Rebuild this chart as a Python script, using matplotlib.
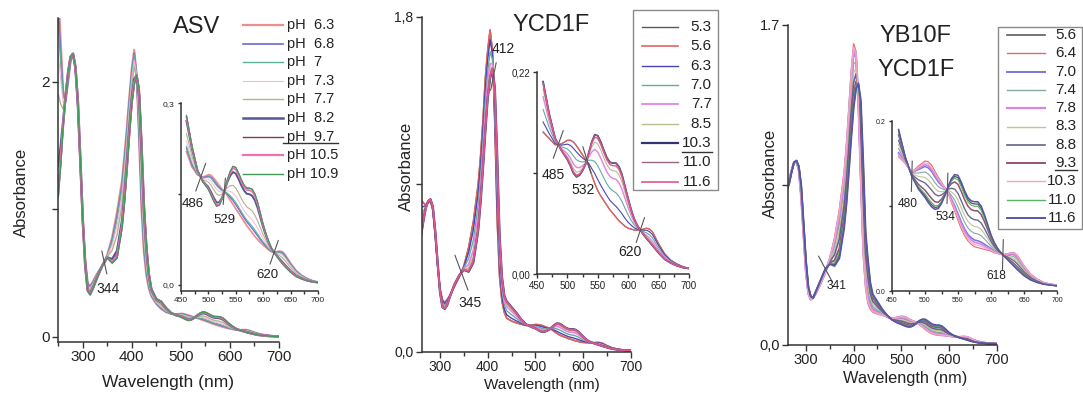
import numpy as np
import matplotlib
matplotlib.use("Agg")
import matplotlib.pyplot as plt
from matplotlib.lines import Line2D
from matplotlib.patches import Rectangle

plt.rcParams['font.family'] = ['Liberation Sans', 'DejaVu Sans']

W, H = 1083, 394

# wavelength grid (nm)
wl = np.array([250, 255, 260, 265, 270, 275, 280, 285, 290, 295, 300, 305, 310, 315, 320,
               330, 340, 350, 360, 370, 380,
               385, 390, 395, 400, 405, 410, 415, 420, 425, 430, 435, 440,
               450, 460, 470, 480, 490,
               500, 505, 510, 515, 520, 525, 530, 535, 540, 545, 550, 555, 560, 565, 570,
               575, 580, 585, 590, 595, 600, 605, 610, 615, 620, 625, 630, 635, 640,
               650, 660, 670, 680, 690, 700])

# ---- ASV: limiting spectra ----
asv_acid = np.array([2.70, 2.30, 1.92, 1.85, 2.00, 2.16, 2.22, 2.10, 1.80, 1.35, 0.90, 0.60, 0.42, 0.40, 0.43,
                     0.50, 0.56, 0.64, 0.78, 0.98, 1.22,
                     1.42, 1.64, 1.88, 2.10, 2.25, 2.05, 1.55, 1.00, 0.66, 0.48, 0.38, 0.32,
                     0.26, 0.22, 0.195, 0.182, 0.178,
                     0.182, 0.181, 0.176, 0.170, 0.164, 0.158, 0.154, 0.147, 0.140, 0.133, 0.126, 0.119, 0.112, 0.105, 0.098,
                     0.092, 0.086, 0.080, 0.075, 0.070, 0.066, 0.062, 0.058, 0.055, 0.054, 0.055, 0.056, 0.055, 0.050,
                     0.036, 0.024, 0.016, 0.011, 0.007, 0.005])
asv_base = np.array([1.10, 1.35, 1.65, 1.90, 2.08, 2.20, 2.22, 2.12, 1.85, 1.40, 0.92, 0.55, 0.36, 0.33, 0.37,
                     0.47, 0.56, 0.62, 0.58, 0.62, 0.85,
                     1.05, 1.30, 1.58, 1.82, 1.98, 2.05, 1.95, 1.55, 1.05, 0.72, 0.50, 0.38,
                     0.30, 0.28, 0.23, 0.19, 0.170,
                     0.158, 0.148, 0.138, 0.130, 0.132, 0.142, 0.158, 0.175, 0.188, 0.196, 0.194, 0.185, 0.174, 0.165, 0.160,
                     0.160, 0.158, 0.150, 0.136, 0.118, 0.100, 0.085, 0.072, 0.061, 0.054, 0.047, 0.041, 0.035, 0.030,
                     0.021, 0.014, 0.010, 0.007, 0.005, 0.004])
asv_ph = ['pH  6.3', 'pH  6.8', 'pH  7', 'pH  7.3', 'pH  7.7', 'pH  8.2', 'pH  9.7', 'pH 10.5', 'pH 10.9']
asv_frac = [0.0, 0.1, 0.15, 0.3, 0.5, 0.85, 1.0, 0.95, 1.0]
asv_colors = ['#f08c8c', '#6a6ad8', '#5db39a', '#f2b6dc', '#b4b488', '#575796', '#7b3b5e', '#f46fb2', '#3f9a5c']
asv_lw = [1.6, 1.2, 1.0, 0.8, 1.0, 1.8, 1.0, 1.6, 1.0]
asv_iso_main = [344]
asv_iso_inset = [486, 529, 620]

# ---- YCD1F ----
ycd_acid = np.array([0.85, 0.83, 0.82, 0.80, 0.79, 0.80, 0.81, 0.76, 0.62, 0.46, 0.34, 0.28, 0.265, 0.28, 0.30,
                     0.35, 0.40, 0.46, 0.56, 0.70, 0.90,
                     1.05, 1.24, 1.47, 1.62, 1.73, 1.62, 1.22, 0.70, 0.40, 0.27, 0.21, 0.18,
                     0.165, 0.155, 0.148, 0.141, 0.142,
                     0.146, 0.146, 0.144, 0.140, 0.135, 0.130, 0.125, 0.118, 0.108, 0.099, 0.091, 0.085, 0.080, 0.075, 0.070,
                     0.066, 0.062, 0.058, 0.055, 0.052, 0.050, 0.049, 0.048, 0.048, 0.048, 0.049, 0.050, 0.049, 0.046,
                     0.033, 0.022, 0.015, 0.011, 0.008, 0.006])
ycd_base = np.array([0.55, 0.58, 0.62, 0.70, 0.77, 0.81, 0.82, 0.78, 0.65, 0.48, 0.32, 0.24, 0.23, 0.25, 0.29,
                     0.36, 0.41, 0.44, 0.43, 0.48, 0.65,
                     0.80, 0.98, 1.18, 1.36, 1.47, 1.52, 1.42, 1.05, 0.62, 0.40, 0.30, 0.27,
                     0.24, 0.21, 0.175, 0.148, 0.135,
                     0.125, 0.118, 0.110, 0.106, 0.108, 0.113, 0.120, 0.132, 0.144, 0.152, 0.151, 0.144, 0.135, 0.127, 0.122,
                     0.121, 0.121, 0.117, 0.108, 0.095, 0.082, 0.070, 0.060, 0.053, 0.048, 0.043, 0.039, 0.035, 0.031,
                     0.023, 0.016, 0.012, 0.009, 0.007, 0.006])
ycd_ph = ['5.3', '5.6', '6.3', '7.0', '7.7', '8.5', '10.3', '11.0', '11.6']
ycd_frac = [0.0, 0.0, 0.2, 0.45, 0.7, 0.85, 1.0, 1.0, 0.95]
ycd_colors = ['#5a5a5a', '#e46262', '#4646b4', '#66aaa2', '#e486e6', '#bcbc92', '#33336e', '#946682', '#e2548e']
ycd_lw = [1.0, 1.2, 1.0, 1.0, 1.3, 1.0, 1.6, 1.0, 1.2]
ycd_iso_main = [345, 412]
ycd_iso_inset = [485, 532, 620]

# ---- YB10F / YCD1F ----
yb_acid = np.array([0.80, 0.82, 0.84, 0.88, 0.93, 0.97, 0.97, 0.93, 0.78, 0.58, 0.38, 0.27, 0.24, 0.25, 0.27,
                    0.32, 0.38, 0.46, 0.57, 0.72, 0.92,
                    1.07, 1.26, 1.46, 1.60, 1.56, 1.28, 0.85, 0.48, 0.30, 0.22, 0.19, 0.175,
                    0.165, 0.158, 0.150, 0.140, 0.147,
                    0.153, 0.152, 0.148, 0.141, 0.134, 0.128, 0.122, 0.115, 0.104, 0.094, 0.083, 0.073, 0.065, 0.059, 0.055,
                    0.052, 0.051, 0.050, 0.049, 0.048, 0.047, 0.045, 0.044, 0.043, 0.043, 0.044, 0.045, 0.045, 0.042,
                    0.030, 0.020, 0.014, 0.010, 0.008, 0.007])
yb_base = np.array([0.75, 0.78, 0.82, 0.86, 0.92, 0.97, 0.98, 0.95, 0.85, 0.65, 0.45, 0.31, 0.26, 0.25, 0.28,
                    0.34, 0.40, 0.43, 0.42, 0.46, 0.62,
                    0.75, 0.92, 1.10, 1.26, 1.36, 1.39, 1.30, 0.98, 0.60, 0.45, 0.33, 0.27,
                    0.23, 0.19, 0.158, 0.135, 0.120,
                    0.110, 0.104, 0.099, 0.096, 0.097, 0.103, 0.112, 0.123, 0.132, 0.137, 0.136, 0.128, 0.118, 0.110, 0.106,
                    0.105, 0.105, 0.100, 0.090, 0.078, 0.066, 0.057, 0.050, 0.045, 0.041, 0.037, 0.033, 0.029, 0.025,
                    0.018, 0.013, 0.010, 0.008, 0.007, 0.006])
yb_ph = ['5.6', '6.4', '7.0', '7.4', '7.8', '8.3', '8.8', '9.3', '10.3', '11.0', '11.6']
yb_frac = [0.95, 0.0, 0.15, 0.3, 0.1, 0.45, 0.6, 0.8, 0.05, 0.9, 1.0]
yb_colors = ['#5c5c5c', '#e46a6a', '#7676da', '#86a6a6', '#d486ea', '#c4c494', '#646490', '#965274', '#f2a6c6', '#56b466', '#5656a6']
yb_lw = [1.2, 1.0, 1.4, 1.0, 1.6, 1.0, 1.2, 1.4, 1.0, 1.0, 1.4]
yb_iso_main = [341]
yb_iso_inset = [480, 534, 618]

INK = '#222222'


def box(x0, y0, x1, y1):
    return [x0 / W, 1 - y1 / H, (x1 - x0) / W, (y1 - y0) / H]


def fx(x):
    return x / W


def fy(y):
    return 1 - y / H


def style(ax, size, ticklen=4):
    for s in ['top', 'right']:
        ax.spines[s].set_visible(False)
    for s in ['left', 'bottom']:
        ax.spines[s].set_color('#333333')
        ax.spines[s].set_linewidth(1.1)
    ax.tick_params(which='both', direction='out', colors='#333333', labelcolor=INK,
                   labelsize=size, width=1, pad=2)
    ax.tick_params(which='major', length=ticklen)
    ax.tick_params(which='minor', length=ticklen * 0.75)
    ax.set_facecolor('none')


def curves(ax, acid, base, frac, colors, lws, lo=None):
    sel = wl >= lo if lo else np.ones(len(wl), bool)
    for f, c, lw in zip(frac, colors, lws):
        ax.plot(wl[sel], ((1 - f) * acid + f * base)[sel], color=c, lw=lw)


def mark(ax, lam, base, line, off, size):
    yv = np.interp(lam, wl, base)
    dx, dy = line
    for s in (1, -1):
        ax.annotate('', xy=(lam, yv), xytext=(s * dx, s * dy), textcoords='offset points',
                    arrowprops=dict(arrowstyle='-', color='#555555', lw=0.8, shrinkA=0, shrinkB=0))
    ax.annotate(str(lam), xy=(lam, yv), xytext=off, textcoords='offset points',
                ha='center', va='center', fontsize=size, color=INK)


def key(labels, colors, lws, x0, x1, xt, y0, dy, ha, size):
    for i, (lab, c, lw) in enumerate(zip(labels, colors, lws)):
        y = y0 + i * dy
        fig.add_artist(Line2D([fx(x0), fx(x1)], [fy(y), fy(y)], color=c, lw=lw))
        fig.text(fx(xt), fy(y), lab, ha=ha, va='center', fontsize=size, color=INK)


def underline(x0, x1, y):
    fig.add_artist(Line2D([fx(x0), fx(x1)], [fy(y), fy(y)], color='#333333', lw=1.0))


def frame(x0, y0, x1, y1):
    fig.add_artist(Rectangle((fx(x0), fy(y1)), (x1 - x0) / W, (y1 - y0) / H,
                             transform=fig.transFigure, fill=False, edgecolor='#8a8a8a', lw=1.0))


fig = plt.figure(figsize=(W / 100, H / 100), dpi=100)

# ================= ASV =================
ax1 = fig.add_axes(box(58.3, 18, 278.7, 341.7))
curves(ax1, asv_acid, asv_base, asv_frac, asv_colors, asv_lw)
ax1.set_xlim(250, 700)
ax1.set_ylim(-0.037, 2.5)
ax1.set_xticks([300, 400, 500, 600, 700])
ax1.set_xticks([250, 350, 450, 550, 650], minor=True)
ax1.set_yticks([0, 1, 2])
ax1.set_yticklabels(['0', '', '2'])
style(ax1, 11)
mark(ax1, asv_iso_main[0], asv_base, (1.8, -8.3), (2.5, -19), 10)

in1 = fig.add_axes(box(181, 103.3, 318, 291))
curves(in1, asv_acid, asv_base, asv_frac, asv_colors, [l * 0.8 for l in asv_lw], lo=460)
in1.set_xlim(450, 700)
in1.set_ylim(-0.0099, 0.3)
in1.set_xticks([450, 500, 550, 600, 650, 700])
in1.set_xticks([475, 525, 575, 625, 675], minor=True)
in1.set_yticks([0, 0.15, 0.3])
in1.set_yticklabels(['0,0', '', '0,3'])
style(in1, 6, 2.5)
for lam, ln, off in zip(asv_iso_inset, [(3.6, 10), (0.8, 9.5), (3, 8.6)],
                        [(-5.5, -19.5), (0, -21), (-5, -16)]):
    mark(in1, lam, asv_base, ln, off, 9.5)

fig.text(fx(197), fy(27), 'ASV', ha='center', va='center', fontsize=17, color=INK)
fig.text(fx(21.7), fy(192), 'Absorbance', rotation=90, ha='center', va='center', fontsize=12, color=INK)
fig.text(fx(168), fy(383), 'Wavelength (nm)', ha='center', va='center', fontsize=12.5, color=INK)
key(asv_ph, asv_colors, asv_lw, 243, 283, 287, 25, 18.6, 'left', 10.5)
underline(283, 338, 143.3)

# ================= YCD1F =================
ax2 = fig.add_axes(box(421.7, 17, 630.7, 351.7))
curves(ax2, ycd_acid, ycd_base, ycd_frac, ycd_colors, ycd_lw)
ax2.set_xlim(261.6, 700)
ax2.set_ylim(0, 1.8)
ax2.set_xticks([300, 400, 500, 600, 700])
ax2.set_xticks([350, 450, 550, 650], minor=True)
ax2.set_yticks([0, 0.9, 1.8])
ax2.set_yticklabels(['0,0', '', '1,8'])
style(ax2, 10)
mark(ax2, ycd_iso_main[0], ycd_base, (4.7, -12.6), (6, -21.6), 10)
mark(ax2, ycd_iso_main[1], ycd_base, (2, 10), (7, 19.5), 10)

in2 = fig.add_axes(box(537, 72.5, 689, 274))
curves(in2, ycd_acid, ycd_base, ycd_frac, ycd_colors, [l * 0.8 for l in ycd_lw], lo=460)
in2.set_xlim(450, 700)
in2.set_ylim(0, 0.22)
in2.set_xticks([450, 500, 550, 600, 650, 700])
in2.set_xticks([475, 525, 575, 625, 675], minor=True)
in2.set_yticks([0, 0.11, 0.22])
in2.set_yticklabels(['0,00', '', '0,22'])
style(in2, 7, 3)
for lam, ln, off in zip(ycd_iso_inset, [(3.6, 10), (2.9, -9.4), (3, 9)],
                        [(-3.8, -21.9), (-2.9, -22), (-7.5, -16)]):
    mark(in2, lam, ycd_base, ln, off, 10)

fig.text(fx(551.5), fy(25), 'YCD1F', ha='center', va='center', fontsize=17, color=INK)
fig.text(fx(406.7), fy(166.7), 'Absorbance', rotation=90, ha='center', va='center', fontsize=12, color=INK)
fig.text(fx(542), fy(385), 'Wavelength (nm)', ha='center', va='center', fontsize=11, color=INK)
frame(633, 10, 718, 190)
key(ycd_ph, ycd_colors, ycd_lw, 641.7, 678, 711.7, 26.7, 19.4, 'right', 11)
underline(682, 711.7, 151.7)

# ================= YB10F / YCD1F =================
ax3 = fig.add_axes(box(788.3, 25, 996.7, 345))
curves(ax3, yb_acid, yb_base, yb_frac, yb_colors, yb_lw)
ax3.set_xlim(263, 700)
ax3.set_ylim(0, 1.7)
ax3.set_xticks([300, 400, 500, 600, 700])
ax3.set_xticks([350, 450, 550, 650], minor=True)
ax3.set_yticks([0, 0.85, 1.7])
ax3.set_yticklabels(['0,0', '', '1.7'])
style(ax3, 10.5)
mark(ax3, yb_iso_main[0], yb_base, (5, -9.4), (8, -12.2), 8.6)

in3 = fig.add_axes(box(892, 121, 1057, 291))
curves(in3, yb_acid, yb_base, yb_frac, yb_colors, [l * 0.8 for l in yb_lw], lo=460)
in3.set_xlim(450, 700)
in3.set_ylim(0, 0.2)
in3.set_xticks([450, 500, 550, 600, 650, 700])
in3.set_xticks([475, 525, 575, 625, 675], minor=True)
in3.set_yticks([0, 0.1, 0.2])
in3.set_yticklabels(['0.0', '', '0.2'])
style(in3, 5, 2.5)
for lam, off in zip(yb_iso_inset, [(-2.9, -20), (-1.7, -20.4), (-4.5, -15.5)]):
    mark(in3, lam, yb_base, (0.3, 11), off, 8.6)

fig.text(fx(916), fy(36), 'YB10F', ha='center', va='center', fontsize=17, color=INK)
fig.text(fx(916), fy(70), 'YCD1F', ha='center', va='center', fontsize=17, color=INK)
fig.text(fx(770), fy(173), 'Absorbance', rotation=90, ha='center', va='center', fontsize=12, color=INK)
fig.text(fx(905), fy(378), 'Wavelength (nm)', ha='center', va='center', fontsize=11.8, color=INK)
frame(998, 27, 1081.5, 229)
key(yb_ph, yb_colors, yb_lw, 1006.7, 1045, 1076.7, 35, 18.3, 'right', 11)
underline(1055, 1076.7, 170)

fig.savefig('out.png', dpi=100)
